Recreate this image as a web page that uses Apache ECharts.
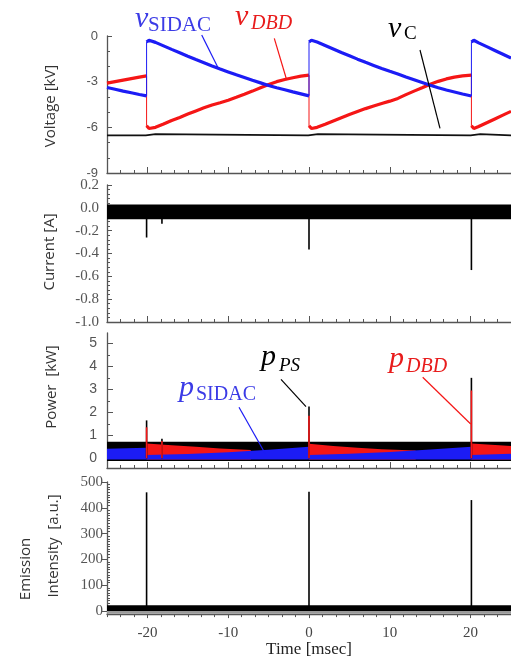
<!DOCTYPE html>
<html><head><meta charset="utf-8">
<script src="https://cdn.jsdelivr.net/npm/echarts@6/dist/echarts.min.js"></script>
<style>html,body{margin:0;padding:0;background:#fff}#c{width:511px;height:659px}</style>
</head><body><div id="c"></div>
<script>
// ---------- DATA ----------
const xLabels = [-20, -10, 0, 10, 20];

// Voltage panel [kV] (duplicated time = jump)
const vTime = [
  -25,-24,-23,-22,-21,-20.1,
  -20.1,-19.8,-19,-18,-17,-16,-15,-14,-13,-12,-11,-10,-9,-8,-7,-6,-5,-4,-3,-2,-1,0,
  0,0.3,1,2,3,4,5,6,7,8,9,10,11,12,13,14,15,16,17,18,19,20.1,
  20.1,20.4,21,22,23,24,25];
const vSidac = [
  -3.38,-3.5,-3.62,-3.73,-3.84,-3.93,
  -0.4,-0.28,-0.42,-0.65,-0.88,-1.1,-1.33,-1.55,-1.76,-1.97,-2.17,-2.36,-2.55,-2.73,-2.91,-3.08,-3.25,-3.4,-3.53,-3.67,-3.8,-3.93,
  -0.4,-0.28,-0.4,-0.62,-0.85,-1.08,-1.3,-1.52,-1.73,-1.93,-2.13,-2.32,-2.5,-2.7,-2.88,-3.06,-3.24,-3.4,-3.55,-3.68,-3.81,-3.94,
  -0.4,-0.28,-0.45,-0.7,-0.95,-1.2,-1.45];
const vDbd = [
  -3.1,-3.0,-2.9,-2.8,-2.7,-2.62,
  -5.9,-6.08,-6.0,-5.78,-5.55,-5.35,-5.13,-4.92,-4.72,-4.53,-4.38,-4.22,-4.03,-3.83,-3.62,-3.4,-3.18,-3.0,-2.86,-2.74,-2.64,-2.57,
  -5.9,-6.08,-6.0,-5.8,-5.58,-5.37,-5.16,-4.96,-4.77,-4.6,-4.44,-4.28,-4.1,-3.85,-3.62,-3.4,-3.17,-2.98,-2.82,-2.7,-2.62,-2.57,
  -5.9,-6.08,-5.95,-5.7,-5.45,-5.2,-4.95];
const vcTime = [-25,-20.2,-20.1,-19,-18.9,-0.1,0,1.1,1.2,20.0,20.1,21.2,21.3,25];
const vcVal  = [-6.53,-6.53,-6.45,-6.45,-6.53,-6.53,-6.45,-6.45,-6.53,-6.53,-6.45,-6.45,-6.53,-6.53];

// Current panel [A]
const curBand = [-0.10, 0.03];
const curSpikeTime = [-20.1, -18.2, 0, 20.1];
const curSpikeVal  = [-0.26, -0.14, -0.365, -0.545];

// Power panel [kW]
const psBand = [-0.12, 0.72];
const sidacBottom = -0.05;
const sidacTime = [-25,-20.1,-20.1,-15,-10,-5,0,0,5,10,15,20.1,20.1,25];
const sidacTop  = [0.42,0.46,0.14,0.19,0.27,0.37,0.5,0.14,0.2,0.28,0.38,0.5,0.14,0.2];
const dbdTime = [-20.1,-17,-14,-11,-7.2,-7.1, 0,3,6,9,13.2,13.3, 20.1,25];
const dbdTop  = [0.65,0.57,0.5,0.43,0.36,null, 0.63,0.54,0.46,0.4,0.34,null, 0.64,0.54];
const pSpikeTime = [-20.1, -18.2, 0, 20.1];
const psPeak  = [1.65, 0.85, 2.25, 3.5];
const dbdPeak = [1.35, 0.75, 1.85, 2.95];
const pTicks = [0, 1, 2, 3, 4, 5];

// Emission panel [a.u.]
const emBand = [0, 22];
const emFloor = [-11, 0];
const emSpikeTime = [-20.1, 0, 20.1];
const emSpikeVal  = [460, 462, 430];
const emTicks = [0, 100, 200, 300, 400, 500];

// ---------- BUILD ----------
const zip = (a, b) => a.map((t, i) => [t, b[i]]);
function breakJumps(pairs) {
  const out = [];
  pairs.forEach((p, i) => {
    if (i > 0 && p[0] === pairs[i - 1][0]) out.push([p[0], null]);
    out.push(p);
  });
  return out;
}
const xMinor = [];
for (let k = 0; k <= 30; k++) xMinor.push(+(-25 + k * 5 / 3).toFixed(4));
const pHalf = [0.5, 1.5, 2.5, 3.5, 4.5];
const emMinor = [];
for (let v = 10; v < 500; v += 10) if (v % 100) emMinor.push(v);

const AX = '#555';
const axLine = { show: true, onZero: false, lineStyle: { color: AX, width: 1.3 } };
const SANS = 'Liberation Sans';
const SERIF = 'Liberation Serif';

const grids = [
  { left: 107, right: -3, top: 36, height: 137 },
  { left: 107, right: -3, top: 185, height: 137 },
  { left: 107, right: -3, top: 333, height: 135 },
  { left: 107, right: -3, top: 482, height: 137 }
];

const xAxes = [];
for (let g = 0; g < 4; g++) {
  xAxes.push({
    type: 'value', gridIndex: g, position: 'bottom', min: -25, max: 25,
    axisLine: axLine,
    axisTick: { show: true, inside: g < 3, length: g < 3 ? 6 : 4, customValues: xLabels, lineStyle: { color: AX } },
    axisLabel: { show: g === 3, customValues: xLabels, fontFamily: SERIF, fontSize: 15, color: '#444', margin: 11 },
    splitLine: { show: false },
    name: g === 3 ? 'Time [msec]' : '', nameLocation: 'middle', nameGap: 22,
    nameTextStyle: { fontFamily: SERIF, fontSize: 17, color: '#222' }
  });
  xAxes.push({
    type: 'value', gridIndex: g, position: 'bottom', min: -25, max: 25,
    axisLine: { show: false, onZero: false },
    axisTick: { show: true, inside: g < 3, length: 3, customValues: xMinor, lineStyle: { color: AX } },
    axisLabel: { show: false }, splitLine: { show: false }
  });
}

const yAxes = [
  { type: 'value', gridIndex: 0, position: 'left', min: -9, max: 0, interval: 3,
    axisLine: axLine, axisTick: { inside: true, length: 5, lineStyle: { color: AX } },
    minorTick: { show: true, splitNumber: 3, length: 3, lineStyle: { color: AX } },
    axisLabel: { fontFamily: SANS, fontSize: 13, color: '#555', margin: 9 }, splitLine: { show: false } },
  { type: 'value', gridIndex: 1, position: 'left', min: -1, max: 0.2, interval: 0.2,
    axisLine: axLine, axisTick: { inside: true, length: 5, lineStyle: { color: AX } },
    minorTick: { show: true, splitNumber: 5, length: 3, lineStyle: { color: AX } },
    axisLabel: { fontFamily: SERIF, fontSize: 15, color: '#555', margin: 8, formatter: v => v.toFixed(1) },
    splitLine: { show: false } },
  { type: 'value', gridIndex: 2, position: 'left', min: -0.42, max: 5.45,
    axisLine: axLine, axisTick: { inside: true, length: 6, customValues: pTicks, lineStyle: { color: AX } },
    axisLabel: { customValues: pTicks, fontFamily: SANS, fontSize: 14, color: '#555', margin: 10 },
    splitLine: { show: false } },
  { type: 'value', gridIndex: 3, position: 'left', min: -12, max: 500,
    axisLine: axLine, axisTick: { inside: false, length: 5, customValues: emTicks, lineStyle: { color: AX } },
    axisLabel: { customValues: emTicks, fontFamily: SERIF, fontSize: 15, color: '#555', margin: 4 },
    splitLine: { show: false } },
  { type: 'value', gridIndex: 2, position: 'left', min: -0.42, max: 5.45,
    axisLine: { show: false, onZero: false },
    axisTick: { inside: true, length: 3, customValues: pHalf, lineStyle: { color: AX } },
    axisLabel: { show: false }, splitLine: { show: false } },
  { type: 'value', gridIndex: 3, position: 'left', min: -12, max: 500,
    axisLine: { show: false, onZero: false },
    axisTick: { inside: true, length: 3, customValues: emMinor, lineStyle: { color: AX } },
    axisLabel: { show: false }, splitLine: { show: false } }
];

const BLUE = '#1c1cf5', RED = '#f51616';
function line(g, data, color, width, z) {
  return { type: 'line', xAxisIndex: 2 * g, yAxisIndex: g, data, symbol: 'none', silent: true,
    lineStyle: { color, width }, z: z || 2 };
}
function band(g, range, color, z) {
  return { type: 'line', xAxisIndex: 2 * g, yAxisIndex: g, data: [[-25, range[1]], [25, range[1]]],
    symbol: 'none', silent: true, lineStyle: { width: 0 },
    areaStyle: { color, opacity: 1, origin: range[0] }, z: z || 1 };
}
function bars(g, data, color, z) {
  return { type: 'bar', xAxisIndex: 2 * g, yAxisIndex: g, data, barWidth: 1.6, barGap: '-100%',
    itemStyle: { color }, silent: true, z: z || 3 };
}
const sidacPairs = zip(vTime, vSidac), dbdPairs = zip(vTime, vDbd);

const series = [
  line(0, zip(vcTime, vcVal), '#111', 1.8, 2),
  line(0, dbdPairs, RED, 1, 3),
  line(0, breakJumps(dbdPairs), RED, 3.2, 3),
  line(0, sidacPairs, BLUE, 1, 4),
  line(0, breakJumps(sidacPairs), BLUE, 3.2, 4),

  band(1, curBand, '#000', 1),
  bars(1, zip(curSpikeTime, curSpikeVal), '#000', 3),

  band(2, psBand, '#000', 1),
  { type: 'line', xAxisIndex: 4, yAxisIndex: 2, data: zip(dbdTime, dbdTop), symbol: 'none', silent: true,
    lineStyle: { width: 0 }, areaStyle: { color: RED, opacity: 1, origin: sidacBottom }, z: 2 },
  { type: 'line', xAxisIndex: 4, yAxisIndex: 2, data: zip(sidacTime, sidacTop), symbol: 'none', silent: true,
    lineStyle: { width: 0 }, areaStyle: { color: BLUE, opacity: 1, origin: sidacBottom }, z: 3 },
  bars(2, zip(pSpikeTime, psPeak), '#000', 4),
  bars(2, zip(pSpikeTime, dbdPeak), RED, 5),

  band(3, emFloor, '#9a9a9a', 1),
  band(3, emBand, '#000', 1),
  bars(3, zip(emSpikeTime, emSpikeVal), '#000', 3)
];

function txt(x, y, text, color, size, italic, family, rot) {
  return { type: 'text', x, y, rotation: rot || 0, silent: true, z: 100,
    style: { text, fill: color, fontSize: size, fontFamily: family || SERIF,
      fontStyle: italic ? 'italic' : 'normal', align: rot ? 'center' : 'left', verticalAlign: 'middle' } };
}
function ln(x1, y1, x2, y2, color) {
  return { type: 'line', silent: true, z: 100, shape: { x1, y1, x2, y2 }, style: { stroke: color, lineWidth: 1.2 } };
}
const LBLUE = '#3b3be6', LRED = '#e81c1c';
const NAMEF = 'Open Sans';
const graphic = [
  txt(51, 106, 'Voltage [kV]', '#333', 15, false, NAMEF, Math.PI / 2),
  txt(50, 252, 'Current [A]', '#333', 15, false, NAMEF, Math.PI / 2),
  txt(52, 387, 'Power  [kW]', '#333', 15, false, NAMEF, Math.PI / 2),
  txt(26, 569, 'Emission', '#333', 15, false, NAMEF, Math.PI / 2),
  txt(54, 546, 'Intensity  [a.u.]', '#333', 15, false, NAMEF, Math.PI / 2),

  txt(135, 19, 'v', LBLUE, 30, true), txt(148, 25, 'SIDAC', LBLUE, 21, false),
  txt(235, 17, 'v', LRED, 30, true), txt(251, 24, 'DBD', LRED, 20, true),
  txt(388, 29, 'v', '#000', 30, true), txt(404, 34, 'C', '#000', 19, false),
  txt(261, 357, 'p', '#000', 30, true), txt(279, 366, 'PS', '#000', 19, true),
  txt(179, 388, 'p', LBLUE, 30, true), txt(196, 395, 'SIDAC', LBLUE, 20, false),
  txt(389, 359, 'p', LRED, 30, true), txt(406, 367, 'DBD', LRED, 20, true),

  ln(201.7, 35, 218.3, 68.3, BLUE),
  ln(274.3, 38.3, 286.7, 80, RED),
  ln(420, 50, 440, 128.3, '#000'),
  ln(281, 379.3, 306, 406.7, '#000'),
  ln(239, 407.3, 265, 453.3, BLUE),
  ln(422.7, 377.3, 470.7, 424, RED)
];

const chart = echarts.init(document.getElementById('c'), null, { renderer: 'canvas' });
chart.setOption({
  animation: false, backgroundColor: '#fff',
  grid: grids, xAxis: xAxes, yAxis: yAxes, series, graphic
});
</script></body></html>
